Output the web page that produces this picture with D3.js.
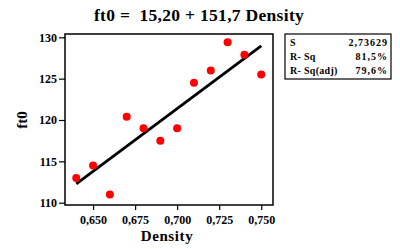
<!DOCTYPE html>
<html>
<head>
<meta charset="utf-8">
<script src="https://cdn.jsdelivr.net/npm/d3@7"></script>
<style>
  html, body { margin: 0; padding: 0; background: #fff; }
  svg { display: block; }
  text { font-family: "Liberation Serif", "Times New Roman", serif; font-weight: bold; fill: #000; }
</style>
</head>
<body>
<svg id="chart" width="400" height="249"></svg>
<script>
// Data
const density = [0.640, 0.650, 0.660, 0.670, 0.680, 0.690, 0.700, 0.710, 0.720, 0.730, 0.740, 0.750];
const ft0     = [113.0, 114.5, 111.0, 120.4, 119.0, 117.5, 119.0, 124.5, 126.0, 129.4, 127.9, 125.5];
const intercept = 15.20;
const slope = 151.7;
const xTicks = [0.650, 0.675, 0.700, 0.725, 0.750];
const yTicks = [110, 115, 120, 125, 130];
const statLabels = ["S", "R- Sq", "R- Sq(adj)"];
const statValues = ["2,73629", "81,5%", "79,6%"];
const titleText = "ft0 =  15,20 + 151,7 Density";

const svg = d3.select("#chart");
const L = 65, R = 273, T = 34, B = 205;

const x = d3.scaleLinear().domain([0.6333, 0.7570]).range([L, R]);
const y = d3.scaleLinear().domain([109.72, 130.4]).range([B, T]);

const fmtX = d => d3.format(".3f")(d).replace(".", ",");

// Title
svg.append("text").attr("x", 199).attr("y", 21).attr("text-anchor", "middle")
  .style("font-size", "17.5px").style("white-space", "pre").style("letter-spacing", "0.3px").text(titleText);

// Frame
svg.append("rect").attr("x", L).attr("y", T).attr("width", R - L).attr("height", B - T)
  .attr("fill", "none").attr("stroke", "#000").attr("stroke-width", 1.5);

// Y axis
const yAxis = svg.append("g").attr("transform", `translate(${L},0)`)
  .call(d3.axisLeft(y).tickValues(yTicks).tickSize(6).tickPadding(2).tickFormat(d3.format("d")));
yAxis.select(".domain").remove();
yAxis.selectAll("line").attr("stroke", "#000").attr("stroke-width", 1.2);
yAxis.selectAll("text").style("font-size", "12px").style("font-family", "'Liberation Serif', serif").style("font-weight", "bold");

// X axis
const xAxis = svg.append("g").attr("transform", `translate(0,${B})`)
  .call(d3.axisBottom(x).tickValues(xTicks).tickSize(5).tickPadding(5).tickFormat(fmtX));
xAxis.select(".domain").remove();
xAxis.selectAll("line").attr("stroke", "#000").attr("stroke-width", 1.2);
xAxis.selectAll("text").style("font-size", "12px").style("font-family", "'Liberation Serif', serif").style("font-weight", "bold");

// Axis titles
svg.append("text").attr("x", 167).attr("y", 241).attr("text-anchor", "middle")
  .style("font-size", "15px").style("letter-spacing", "0.6px").text("Density");
svg.append("text").attr("transform", "translate(27,120) rotate(-90)").attr("text-anchor", "middle")
  .style("font-size", "15px").text("ft0");

// Fit line
const xr = d3.extent(density);
svg.append("line")
  .attr("x1", x(xr[0])).attr("y1", y(intercept + slope * xr[0]))
  .attr("x2", x(xr[1])).attr("y2", y(intercept + slope * xr[1]))
  .attr("stroke", "#000").attr("stroke-width", 2.8);

// Points
svg.append("g").selectAll("circle").data(density).join("circle")
  .attr("cx", (d, i) => x(d)).attr("cy", (d, i) => y(ft0[i]))
  .attr("r", 4).attr("fill", "#ff0000");

// Stats box
svg.append("rect").attr("x", 285).attr("y", 34).attr("width", 106).attr("height", 45)
  .attr("fill", "#fff").attr("stroke", "#000").attr("stroke-width", 1.2);
statLabels.forEach((s, i) => {
  svg.append("text").attr("x", 290).attr("y", 46 + i * 14).style("font-size", "10px").style("letter-spacing", "0.3px").text(s);
  svg.append("text").attr("x", 388).attr("y", 46 + i * 14).attr("text-anchor", "end")
    .style("font-size", "10px").style("letter-spacing", "1px").text(statValues[i]);
});
</script>
</body>
</html>
